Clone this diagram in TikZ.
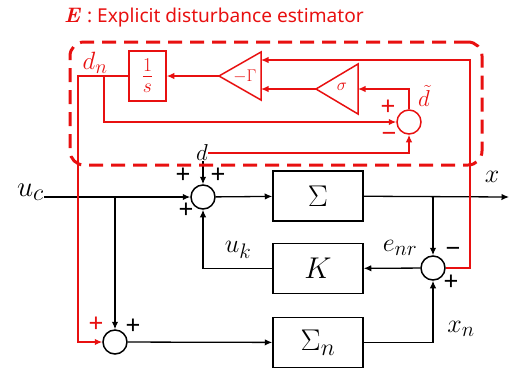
\RequirePackage{fix-cm}
\documentclass[tikz,border=0pt]{standalone}
\usepackage{fontspec}
\newfontfamily\titlefont{Noto Sans}
\DeclareMathSizes{26}{26}{21}{17}
\DeclareMathSizes{25}{25}{20}{16}
\DeclareMathSizes{23}{23}{19}{15}
\DeclareMathSizes{30}{30}{24}{19}
\DeclareMathSizes{29}{29}{24}{19}
\usetikzlibrary{arrows.meta}
\definecolor{myred}{RGB}{232,16,16}
\begin{document}
\begin{tikzpicture}[x=1pt,y=-1pt,
  wire/.style={line width=1.3pt},
  arr/.style={wire,-{Latex[length=7.5pt,width=6.5pt]}},
  rarr/.style={arr,myred},
  blk/.style={draw,line width=1.5pt,minimum width=90pt,minimum height=50pt,inner sep=0,font=\fontsize{30}{30}\selectfont},
  sumc/.style={draw,circle,line width=1.5pt,minimum size=24pt,inner sep=0},
  lbl/.style={font=\fontsize{26}{26}\selectfont,inner sep=0},
  sgn/.style={font=\titlefont\fontsize{26}{26}\selectfont,inner sep=0},
  rlbl/.style={font=\fontsize{25}{25}\selectfont,inner sep=0,text=myred},
  rsgn/.style={sgn,text=myred},
]
\useasboundingbox (0,0) rectangle (510,368);

% title
\node[anchor=west,inner sep=0,text=myred] (title) at (64,18)
  {{\fontsize{21}{21}\selectfont\bfseries\itshape E}\hspace{6pt}{\titlefont\fontsize{19.1}{19.1}\selectfont\textbf{:} Explicit disturbance estimator}};

% main loop (black)
\node[lbl,font=\fontsize{29}{29}\selectfont,anchor=east] (uc) at (44,192) {$u_c$};
\node[sumc] (s1) at (203,197) {};
\node[blk] (sig) at (318,196) {$\Sigma$};
\node[blk] (K) at (318,268.5) {$K$};
\node[blk] (sign) at (318,342.5) {$\Sigma_n$};
\node[sumc] (s2) at (433,268) {};
\node[sumc] (s3) at (115,342) {};
\node[font=\fontsize{23}{23}\selectfont,inner sep=0] (d) at (202,153) {$d$};
\coordinate (out) at (509,197);
\coordinate (b1) at (115,197);
\coordinate (b2) at (433,197);

\draw[arr] (uc.east|-s1) -- (s1);
\draw[arr] (s1) -- (sig);
\draw[arr] (sig) -- (out);
\draw[arr] (b2) -- (s2);
\draw[arr] (s2) -- (K);
\draw[arr] (K.west) -| (s1.south);
\draw[arr] (b1) -- (s3);
\draw[arr] (s3) -- (sign);
\draw[arr] (sign.east) -| (s2.south);
\draw[arr] (d.south) ++(1,0) -- (s1.north);

\node[lbl] (xl) at (492,177) {$x$};
\node[lbl] (ukl) at (238,250) {$u_k$};
\node[lbl] (enrl) at (400,248) {$e_{nr}$};
\node[lbl] (xnl) at (461,329) {$x_n$};

\node[sgn] (p1) at (183,176) {+};
\node[sgn] (p2) at (218,176) {+};
\node[sgn] (p3) at (186,211) {+};
\node[sgn] (m1) at (453,252) {−};
\node[sgn] (p4) at (451,283) {+};
\node[sgn] (p5) at (133,327) {+};

% estimator (red)
\node[draw=myred, dash pattern=on 14pt off 8pt, line width=3pt, rounded corners=14pt,
      minimum width=412pt, minimum height=123pt, inner sep=0] (est) at (276,103.5) {};
\node[draw=myred, line width=1.5pt, minimum width=37pt, minimum height=50pt, inner sep=0,
      text=myred, font=\fontsize{28}{28}\selectfont] (ints) at (147.5,76) {$\frac{1}{s}$};
\draw[myred,line width=1.5pt] (219,76) coordinate (gtip) -- (261,52) -- (261,100) -- cycle;
\node[text=myred,inner sep=0,font=\fontsize{17}{17}\selectfont] (gam) at (245,76) {$-\Gamma$};
\draw[myred,line width=1.5pt] (316,89) coordinate (stip) -- (358,64) -- (358,114) -- cycle;
\node[text=myred,inner sep=0,font=\fontsize{17}{17}\selectfont] (sgm) at (342,87) {$\sigma$};
\node[sumc,draw=myred] (s4) at (409,122) {};
\coordinate (gin1) at (261,60);
\coordinate (gin2) at (261,89);
\coordinate (sin) at (358,89);
\coordinate (rc) at (470,60);
\coordinate (dnl) at (78,76);
\coordinate (dnb) at (104,76);

\draw[rarr] (gtip) -- (ints.east);
\draw[rarr] (stip) -- (gin2);
\draw[rarr] (s4.north) |- (sin);
\draw[rarr] (s2.east) -| (rc) -- (gin1);
\draw[rarr] (d.east) -| (s4.south);
\draw[rarr] (ints.west) -- (dnl) |- (s3.west);
\draw[rarr] (dnb) |- (s4.west);

\node[rlbl] (dnlab) at (95,63) {$d_n$};
\node[rlbl,font=\fontsize{23}{23}\selectfont] (dtl) at (424,96) {$\tilde{d}$};
\node[rsgn] (p6) at (96,325) {+};
\node[rsgn] (p7) at (388,108) {+};
\node[rsgn] (m2) at (389,137) {−};
\end{tikzpicture}
\end{document}
